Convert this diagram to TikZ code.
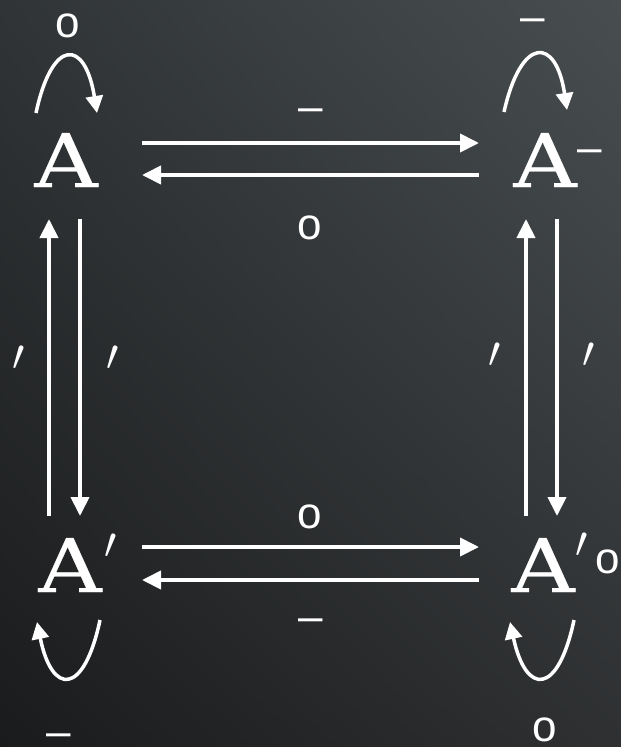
\RequirePackage{fix-cm}
\documentclass[tikz,border=0pt]{standalone}
\usepackage{fontspec}
\setmainfont{Liberation Sans}
\newfontfamily\objfont[FakeStretch=1.18,FakeBold=0.4]{DejaVu Serif}
\usetikzlibrary{arrows.meta,shadings}
\definecolor{bgTL}{RGB}{48,52,54}
\definecolor{bgTR}{RGB}{72,78,80}
\definecolor{bgBL}{RGB}{26,27,28}
\definecolor{bgBR}{RGB}{46,48,50}
\begin{document}
\begin{tikzpicture}[x=1pt,y=-1pt,
  objnode/.style={text=white,inner sep=0pt,anchor=base,font=\fontsize{74}{74}\selectfont\objfont},
  lab/.style={text=white,inner sep=0pt,anchor=base,font=\fontsize{44}{44}\selectfont},
  dashlab/.style={text=white,inner sep=0pt,anchor=center,font=\fontsize{44}{44}\selectfont},
  primelab/.style={text=white,inner sep=0pt,font=\fontsize{44}{44}\selectfont},
  arr/.style={draw=white,line width=4pt,-{Triangle[length=19pt,width=18pt]}},
  looparr/.style={draw=white,line width=3.5pt,-{Triangle[length=17pt,width=17pt]}}]
\useasboundingbox (0,0) rectangle (621,747);
\shade[upper left=bgTL,upper right=bgTR,lower left=bgBL,lower right=bgBR] (0,0) rectangle (621,747);
% objects
\node[objnode] (A) at (66,187) {A};
\node[objnode] (Am) at (545,187) {A};
\node[objnode] (Ap) at (70,592) {A};
\node[objnode] (Apo) at (543,592) {A};
% superscripts
\node[dashlab] (smA) at (590,156) {–};
\node[primelab] (spAp) at (111,546) {$\prime$};
\node[primelab] (spApo) at (582,545) {$\prime$};
\node[lab] (soApo) at (608,573) {o};
% horizontal arrow endpoints
\coordinate (t1) at (142,143); \coordinate (t2) at (479,143);
\coordinate (t3) at (479,175); \coordinate (t4) at (142,175);
\coordinate (b1) at (142,547); \coordinate (b2) at (479,547);
\coordinate (b3) at (479,580); \coordinate (b4) at (142,580);
\draw[arr] (t1) -- (t2);
\draw[arr] (t3) -- (t4);
\draw[arr] (b1) -- (b2);
\draw[arr] (b3) -- (b4);
% vertical arrow endpoints
\coordinate (l1) at (49,516); \coordinate (l2) at (49,219);
\coordinate (l3) at (80,219); \coordinate (l4) at (80,516);
\coordinate (r1) at (526,516); \coordinate (r2) at (526,219);
\coordinate (r3) at (557,219); \coordinate (r4) at (557,516);
\draw[arr] (l1) -- (l2);
\draw[arr] (l3) -- (l4);
\draw[arr] (r1) -- (r2);
\draw[arr] (r3) -- (r4);
% loops
\coordinate (la1) at (36,113); \coordinate (la2) at (97,113);
\coordinate (lb1) at (504,112); \coordinate (lb2) at (567,110);
\coordinate (lc1) at (100,620); \coordinate (lc2) at (37,622);
\coordinate (ld1) at (574,620); \coordinate (ld2) at (510,622);
\draw[looparr] (la1) .. controls (52,38) and (85,38) .. (la2);
\draw[looparr] (lb1) .. controls (521,36) and (556,36) .. (lb2);
\draw[looparr] (lc1) .. controls (84,696) and (52,696) .. (lc2);
\draw[looparr] (ld1) .. controls (558,696) and (526,696) .. (ld2);
% labels
\node[lab] (o1) at (68,37) {o};
\node[dashlab] (m1) at (533,25) {–};
\node[dashlab] (m2) at (311,115) {–};
\node[lab] (o2) at (310,239) {o};
\node[lab] (o3) at (310,528) {o};
\node[dashlab] (m3) at (311,625) {–};
\node[dashlab] (m4) at (59,740) {–};
\node[lab] (o4) at (545,741) {o};
\node[primelab] (p1) at (19,358) {$\prime$};
\node[primelab] (p2) at (113,358) {$\prime$};
\node[primelab] (p3) at (495,355) {$\prime$};
\node[primelab] (p4) at (589,355) {$\prime$};
\end{tikzpicture}
\end{document}
